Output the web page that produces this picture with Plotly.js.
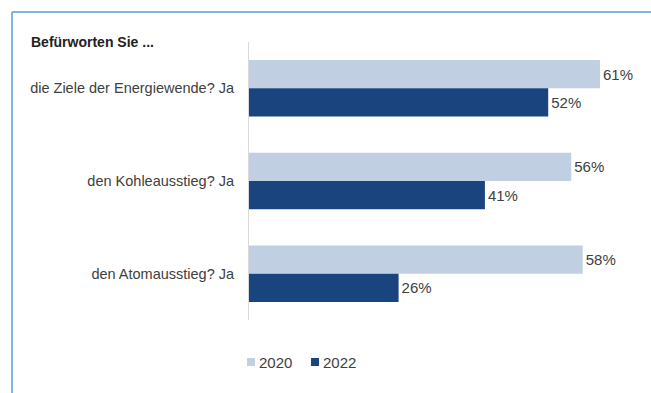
<!DOCTYPE html>
<html><head><meta charset="utf-8">
<script src="https://cdn.plot.ly/plotly-3.0.1.min.js"></script>
<style>html,body{margin:0;padding:0;background:#fff}#c{width:651px;height:393px}</style>
</head><body><div id="c"></div>
<script>
const categories = ["die Ziele der Energiewende? Ja", "den Kohleausstieg? Ja", "den Atomausstieg? Ja"];
const seriesNames = ["2020", "2022"];
const seriesColors = ["#c0cfe1", "#19447e"];
const values2020 = [61, 56, 58];
const values2022 = [52, 41, 26];
const chartTitle = "Befürworten Sie ...";

const L = 249, T = 42, W = 374, H = 278;
const px = x => (x - L) / W;
const py = y => (T + H - y) / H;
const textColor = "#404040";
const fontFam = "Liberation Sans, Arial, sans-serif";

const mk = (name, vals, color) => ({
  type: "bar", orientation: "h", name: name,
  x: vals, y: categories,
  marker: {color: color},
  text: vals.map(v => v + "%"), textposition: "outside", cliponaxis: false,
  textfont: {size: 15, color: textColor, family: fontFam},
  hoverinfo: "none"
});

const data = [mk(seriesNames[0], values2020, seriesColors[0]), mk(seriesNames[1], values2022, seriesColors[1])];

// custom legend (small squares close to text, as in the reference)
const legendX = [247, 311];
const legendShapes = seriesNames.map((n, i) => ({
  type: "rect", xref: "paper", yref: "paper",
  x0: px(legendX[i]), x1: px(legendX[i] + 8), y0: py(366), y1: py(358),
  fillcolor: seriesColors[i], line: {width: 0}
}));
const legendAnn = seriesNames.map((n, i) => ({
  xref: "paper", yref: "paper", x: px(legendX[i] + 10), y: py(362),
  xanchor: "left", yanchor: "middle", showarrow: false, text: n,
  font: {size: 15, color: textColor, family: fontFam}
}));

const layout = {
  width: 651, height: 393,
  margin: {l: L, t: T, r: 651 - L - W, b: 393 - T - H},
  paper_bgcolor: "#fff", plot_bgcolor: "#fff",
  font: {family: fontFam, color: textColor, size: 14},
  barmode: "group", bargap: 0.39, bargroupgap: 0,
  title: {text: "<b>" + chartTitle + "</b>", x: 31/651, xanchor: "left", xref: "container",
          y: 1 - 42/393, yanchor: "middle", yref: "container", font: {size: 14, color: "#222", family: fontFam}},
  xaxis: {range: [0, 65], showgrid: false, zeroline: false, showticklabels: false, showline: false, ticks: ""},
  yaxis: {autorange: "reversed", showline: true, linecolor: "#d9d9d9", linewidth: 1, ticks: "",
          ticklabelstandoff: 11, tickfont: {size: 14.5, color: textColor}},
  showlegend: false,
  annotations: legendAnn,
  shapes: [
    {type: "line", xref: "paper", yref: "paper", x0: px(12), x1: px(12), y0: py(12), y1: py(400), line: {color: "#5f98d2", width: 1.5}},
    {type: "line", xref: "paper", yref: "paper", x0: px(12), x1: px(660), y0: py(12), y1: py(12), line: {color: "#5f98d2", width: 1.5}}
  ].concat(legendShapes)
};
Plotly.newPlot("c", data, layout, {displayModeBar: false, staticPlot: true});
</script></body></html>
